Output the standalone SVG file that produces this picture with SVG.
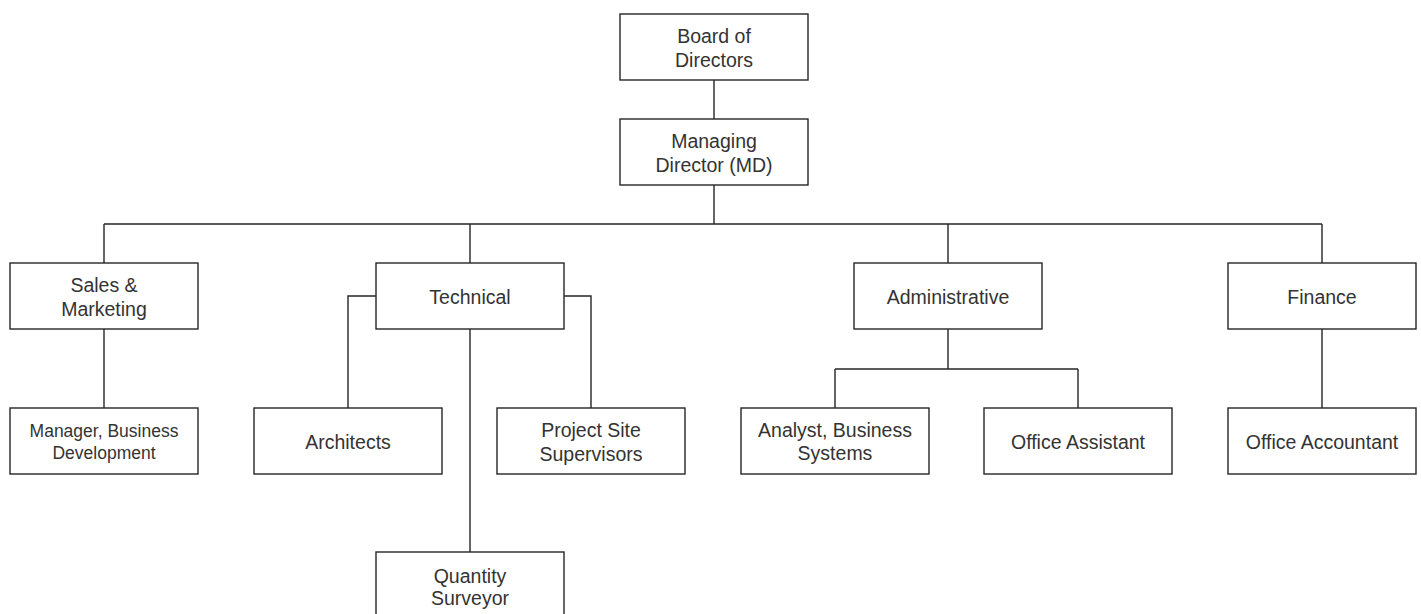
<svg xmlns="http://www.w3.org/2000/svg" width="1421" height="614" viewBox="0 0 1421 614">
<style>
.box{fill:#ffffff;stroke:#262626;stroke-width:1.4}
.c{fill:none;stroke:#262626;stroke-width:1.4}
text{font-family:"Liberation Sans",Arial,sans-serif;font-size:19.5px;fill:#333333;text-anchor:middle}
.s{font-size:17.5px}
</style>
<rect width="1421" height="614" fill="#ffffff"/>
<g id="connectors">
<path class="c" d="M714 80V119"/>
<path class="c" d="M714 185V224M104 224H1322M104 224V263M470 224V263M948 224V263M1322 224V263"/>
<path class="c" d="M104 329V408"/>
<path class="c" d="M376 296H348V408"/>
<path class="c" d="M564 296H591V408"/>
<path class="c" d="M470 329V552"/>
<path class="c" d="M948 329V369M835 369H1078M835 369V408M1078 369V408"/>
<path class="c" d="M1322 329V408"/>
</g>
<g id="board"><rect class="box" x="620" y="14" width="188" height="66"/><text x="714" y="43">Board of</text><text x="714" y="67">Directors</text></g>
<g id="md"><rect class="box" x="620" y="119" width="188" height="66"/><text x="714" y="148">Managing</text><text x="714" y="172">Director (MD)</text></g>
<g id="sales"><rect class="box" x="10" y="263" width="188" height="66"/><text x="104" y="292">Sales &amp;</text><text x="104" y="316">Marketing</text></g>
<g id="technical"><rect class="box" x="376" y="263" width="188" height="66"/><text x="470" y="304">Technical</text></g>
<g id="administrative"><rect class="box" x="854" y="263" width="188" height="66"/><text x="948" y="304">Administrative</text></g>
<g id="finance"><rect class="box" x="1228" y="263" width="188" height="66"/><text x="1322" y="304">Finance</text></g>
<g id="manager"><rect class="box" x="10" y="408" width="188" height="66"/><text class="s" x="104" y="437">Manager, Business</text><text class="s" x="104" y="459">Development</text></g>
<g id="architects"><rect class="box" x="254" y="408" width="188" height="66"/><text x="348" y="449">Architects</text></g>
<g id="project"><rect class="box" x="497" y="408" width="188" height="66"/><text x="591" y="437">Project Site</text><text x="591" y="461">Supervisors</text></g>
<g id="analyst"><rect class="box" x="741" y="408" width="188" height="66"/><text x="835" y="437">Analyst, Business</text><text x="835" y="460">Systems</text></g>
<g id="assistant"><rect class="box" x="984" y="408" width="188" height="66"/><text x="1078" y="449">Office Assistant</text></g>
<g id="accountant"><rect class="box" x="1228" y="408" width="188" height="66"/><text x="1322" y="449">Office Accountant</text></g>
<g id="quantity"><rect class="box" x="376" y="552" width="188" height="66"/><text x="470" y="582.5">Quantity</text><text x="470" y="605">Surveyor</text></g>
</svg>
